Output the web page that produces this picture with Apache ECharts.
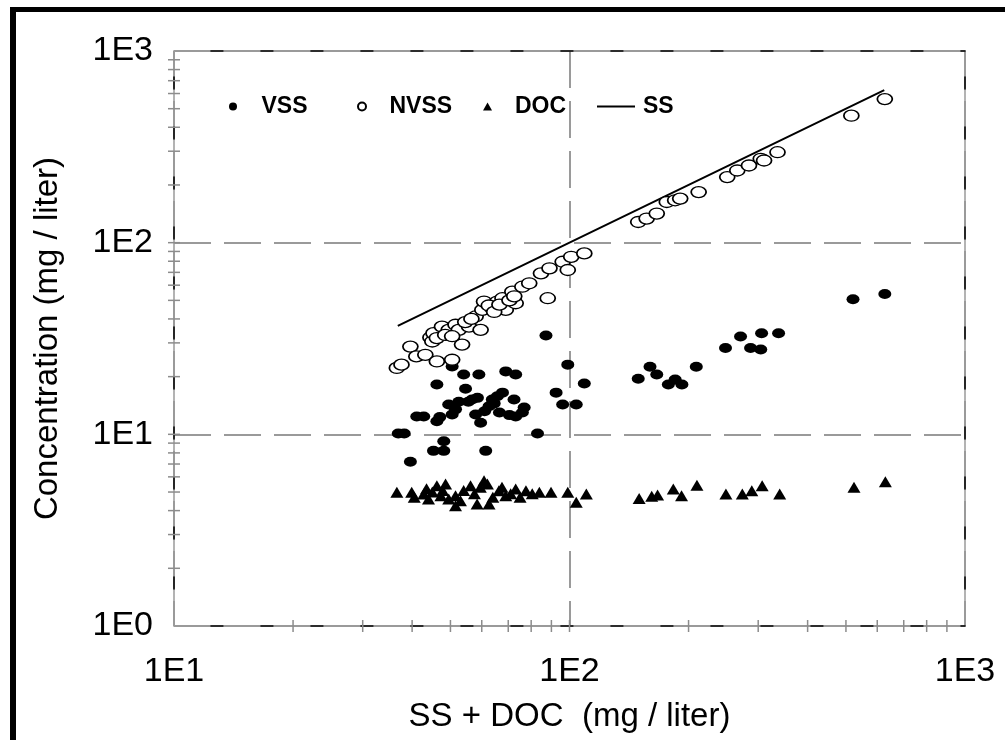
<!DOCTYPE html>
<html>
<head>
<meta charset="utf-8">
<script src="https://cdn.jsdelivr.net/npm/echarts@6/dist/echarts.min.js"></script>
<style>
  html, body { margin: 0; padding: 0; background: #fff; }
  #chart { width: 1005px; height: 740px; }
  #frame { position: absolute; left: 10px; top: 7px; width: 995px; height: 733px;
           border-left: 6px solid #000; border-top: 5px solid #000;
           box-sizing: border-box; pointer-events: none; }
</style>
</head>
<body>
<div id="chart"></div>
<div id="frame"></div>
<script>
// values: [SS + DOC, concentration]
var vssData = [
  [36.9, 10.1], [38.2, 10.1], [39.6, 7.2], [41.1, 12.4], [42.8, 12.4], [46.2, 18.2],
  [46.2, 11.7], [45.3, 8.2], [48.1, 8.2], [48.1, 9.2], [50.5, 22.6], [54.0, 20.5],
  [59.0, 20.5], [54.6, 17.3], [49.5, 14.3], [51.5, 13.5], [50.5, 12.7], [56.7, 15.2],
  [57.9, 12.7], [59.6, 11.5], [61.4, 8.2], [62.6, 14.0], [63.8, 15.2], [65.7, 15.8],
  [67.7, 16.5], [69.0, 21.3], [73.1, 20.5], [72.4, 15.2], [73.1, 12.4], [76.0, 13.0],
  [76.8, 13.8], [83.0, 10.1], [87.2, 32.8], [92.5, 16.5], [99.0, 23.1], [96.1, 14.3],
  [104, 14.3], [109, 18.4],
  [47, 12.3], [52.5, 14.8], [55.5, 14.8], [58.5, 15.5], [61, 13.2], [64.5, 14.5],
  [66.5, 13.0], [70.5, 12.6],
  [149.2, 19.5], [159.8, 22.5], [166.2, 20.5], [177.8, 18.2], [185, 19.3], [192.4, 18.2],
  [209.2, 22.5], [248, 28.2], [270.7, 32.4], [287, 28.2], [304.5, 27.7], [306, 33.7],
  [337.8, 33.7], [521, 50.7], [627, 54.0]
]
var nvssData = [
  [36.6, 22.2], [37.6, 23.1], [39.6, 28.7], [41.0, 25.5], [43.2, 26.0], [46.2, 24.0],
  [50.5, 24.5], [44.5, 32.0], [45.0, 30.5], [45.3, 33.7], [46.2, 31.8], [47.6, 36.5],
  [49.5, 35.1], [51.5, 37.3], [53.5, 29.4], [52.5, 35.1], [55.7, 36.5], [57.9, 41.2],
  [60.2, 44.6], [60.8, 49.3], [59.6, 35.1], [63.8, 45.5], [65.7, 49.3], [67.7, 51.3],
  [69.0, 44.6], [71.7, 55.5], [73.1, 48.3], [76.0, 58.9], [79.1, 61.4], [84.7, 69.2],
  [88.1, 51.3], [89.0, 73.5], [96.1, 79.5], [99.0, 72.0], [101, 84.4], [109, 87.9],
  [48.5, 33.0], [50.5, 32.5], [54.5, 38.5], [56.5, 40.0], [62.5, 47.0], [64.5, 43.5],
  [66.5, 47.5], [70.5, 50.0], [72.5, 52.5],
  [149.2, 128.2], [156.7, 133.6], [166.2, 141.9], [176.2, 163.0], [185, 166.4],
  [190.5, 169.8], [212.1, 183.6], [250.5, 219.8], [265.6, 238], [284.3, 252.7],
  [304.5, 273.9], [310.4, 268.4], [335.7, 296.4], [516, 459.7], [627, 561]
]
var docData = [
  [36.6, 4.98], [39.9, 4.98], [42.8, 4.88], [44, 4.6], [45, 5.0], [46.2, 5.39],
  [47.3, 4.78], [48.6, 5.50], [49.5, 4.6], [51.5, 4.24], [51.5, 4.78], [53, 4.5],
  [54, 5.1], [56.2, 5.39], [58.4, 4.33], [60.8, 5.72], [62.0, 5.50], [62.6, 4.33],
  [64, 4.7], [66.3, 5.08], [69.0, 4.78], [71, 4.9], [73.1, 5.18], [75, 4.7],
  [77.6, 5.08], [83.9, 4.98], [89.8, 4.98], [99.0, 4.98], [104, 4.42], [110.3, 4.88],
  [40.5, 4.7], [43.5, 5.2], [47.8, 5.1], [57.5, 4.9], [59.5, 5.3], [67.5, 5.3], [80.5, 4.9],
  [150, 4.63], [161.4, 4.75], [167, 4.82], [183, 5.18], [192, 4.78], [210, 5.43],
  [248.6, 4.88], [273.5, 4.88], [289, 5.08], [307, 5.39], [340, 4.88], [524, 5.29],
  [629, 5.65]
]
var ssLine = [[36.8, 36.8], [100, 100], [625, 625]]

var xTickLabels = ['1E1', '1E2', '1E3']
var yTickLabels = ['1E0', '1E1', '1E2', '1E3']
var xMinorTicks = [20, 30, 40, 50, 60, 70, 80, 90, 100, 200, 300, 400, 500, 600, 700, 800, 900]
var yMinorTicks = [2, 3, 4, 5, 6, 7, 8, 9, 10, 20, 30, 40, 50, 60, 70, 80, 90, 100,
  200, 300, 400, 500, 600, 700, 800, 900]

var FONT = '"Liberation Sans", Arial, sans-serif'
var chart = echarts.init(document.getElementById('chart'))

function tickSeries (vals, horizontal) {
  return {
    type: 'custom',
    silent: true,
    clip: false,
    z: 4,
    data: vals.map(function (v) { return horizontal ? [10, v] : [v, 1] }),
    renderItem: function (params, api) {
      var p = api.coord([api.value(0), api.value(1)])
      var shape = horizontal
        ? { x1: p[0] - 6, y1: p[1], x2: p[0] + 6, y2: p[1] }
        : { x1: p[0], y1: p[1] - 6, x2: p[0], y2: p[1] + 6 }
      return { type: 'line', shape: shape, style: { stroke: '#8c8c8c', lineWidth: 1.5 } }
    }
  }
}

var legendBase = {
  orient: 'horizontal',
  top: 90,
  itemHeight: 8,
  itemWidth: 9,
  selectedMode: false,
  textStyle: { fontSize: 23, fontWeight: 'bold', color: '#000', fontFamily: FONT }
}
function legendAt (item, left, pad, extra) {
  var l = Object.assign({}, legendBase, { data: [item], left: left })
  l.textStyle = Object.assign({}, legendBase.textStyle, { padding: [0, 0, 0, pad] })
  return Object.assign(l, extra || {})
}

var dashedBlack = { color: '#000', width: 1.5, type: [12, 38], dashOffset: 13 }

var option = {
  backgroundColor: '#fff',
  animation: false,
  grid: {
    left: 174, right: 40, top: 51, bottom: 114,
    show: true, borderColor: '#9a9a9a', borderWidth: 1.5
  },
  legend: [
    legendAt('VSS', 224, 19),
    legendAt('NVSS', 352, 18),
    legendAt('DOC', 478, 18),
    legendAt({ name: 'SS', icon: 'rect' }, 592, 3, { itemWidth: 38, itemHeight: 2 })
  ],
  xAxis: [{
    type: 'log', logBase: 10, min: 10, max: 1000,
    name: 'SS + DOC  (mg / liter)', nameLocation: 'middle', nameGap: 74,
    nameTextStyle: { fontSize: 33, color: '#000', fontFamily: FONT },
    axisLine: { lineStyle: dashedBlack },
    axisTick: { show: false },
    axisLabel: {
      fontSize: 34, color: '#000', fontFamily: FONT, margin: 29,
      formatter: function (v) { return xTickLabels[Math.round(Math.log10(v)) - 1] }
    },
    splitLine: { show: true, lineStyle: { color: '#9a9a9a', width: 2, type: [37, 13] } }
  }, {
    type: 'log', logBase: 10, min: 10, max: 1000, position: 'top',
    axisLine: { lineStyle: dashedBlack },
    axisTick: { show: false }, axisLabel: { show: false }, splitLine: { show: false }
  }],
  yAxis: [{
    type: 'log', logBase: 10, min: 1, max: 1000,
    name: 'Concentration (mg / liter)', nameLocation: 'middle', nameGap: 110,
    nameTextStyle: { fontSize: 33, color: '#000', fontFamily: FONT },
    axisLine: { lineStyle: dashedBlack },
    axisTick: { show: false },
    axisLabel: {
      fontSize: 34, color: '#000', fontFamily: FONT, margin: 21,
      formatter: function (v) { return yTickLabels[Math.round(Math.log10(v))] }
    },
    splitLine: { show: true, lineStyle: { color: '#9a9a9a', width: 2, type: [37, 13] } }
  }, {
    type: 'log', logBase: 10, min: 1, max: 1000, position: 'right',
    axisLine: { lineStyle: dashedBlack },
    axisTick: { show: false }, axisLabel: { show: false }, splitLine: { show: false }
  }],
  series: [
    tickSeries(xMinorTicks, false),
    tickSeries(yMinorTicks, true),
    {
      name: 'SS', type: 'line', data: ssLine, symbol: 'none', z: 6,
      lineStyle: { color: '#000', width: 2 }, itemStyle: { color: '#000' }
    },
    {
      name: 'VSS', type: 'scatter', data: vssData, symbol: 'circle', symbolSize: [13, 10], z: 7,
      itemStyle: { color: '#000', opacity: 1 }
    },
    {
      name: 'NVSS', type: 'scatter', data: nvssData, symbol: 'circle', symbolSize: [15, 11], z: 7,
      itemStyle: { color: '#fff', borderColor: '#000', borderWidth: 1.5, opacity: 1 }
    },
    {
      name: 'DOC', type: 'scatter', data: docData, symbol: 'triangle', symbolSize: [13, 11], z: 7,
      itemStyle: { color: '#000', opacity: 1 }
    }
  ]
}

chart.setOption(option)
</script>
</body>
</html>
